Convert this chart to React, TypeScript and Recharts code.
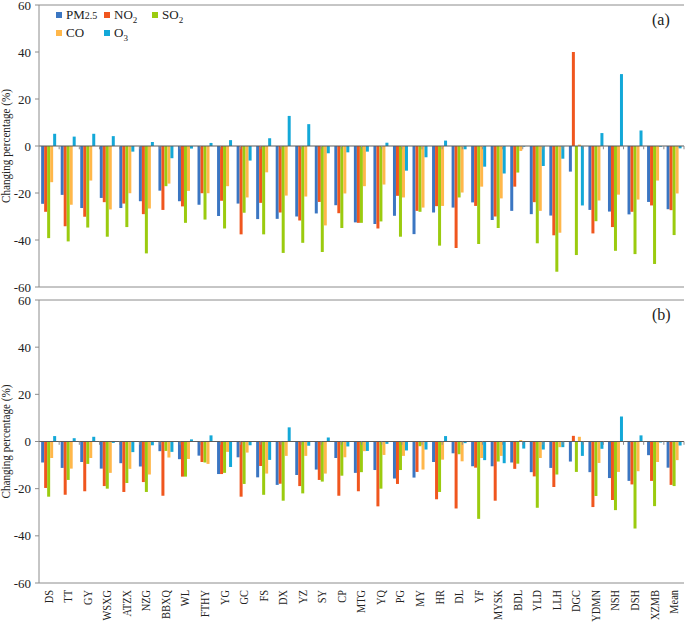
import React from "react";
import { BarChart, Bar, XAxis, YAxis, ReferenceLine, Legend } from "recharts";

const categories = [
  "DS", "TT", "GY", "WSXG", "ATZX", "NZG", "BBXQ", "WL", "FTHY", "YG", "GC",
  "FS", "DX", "YZ", "SY", "CP", "MTG", "YQ", "PG", "MY", "HR", "DL",
  "YF", "MYSK", "BDL", "YLD", "LLH", "DGC", "YDMN", "NSH", "DSH", "XZMB", "Mean",
];

// panel (a)
const pm25A = [-24.6, -20.8, -26.4, -22.1, -26.4, -23.5, -19.0, -23.5, -25.0, -29.8, -24.5, -31.1, -31.0, -30.0, -28.7, -25.2, -32.5, -33.2, -29.7, -37.5, -28.3, -26.2, -24.0, -31.5, -27.6, -29.0, -29.6, -10.9, -27.2, -27.9, -29.1, -23.8, -26.9];
const no2A = [-28.0, -34.2, -30.1, -23.9, -24.5, -29.0, -27.2, -25.7, -20.1, -23.3, -37.6, -24.2, -28.3, -31.7, -23.8, -28.6, -32.7, -35.1, -21.2, -27.6, -25.6, -43.4, -25.5, -30.0, -17.3, -23.9, -38.0, 40.0, -37.2, -34.5, -28.0, -25.3, -27.3];
const so2A = [-39.2, -40.6, -34.7, -38.6, -34.5, -45.7, -17.1, -32.7, -31.3, -35.1, -28.4, -37.6, -45.5, -41.2, -45.1, -34.9, -32.7, -32.1, -38.6, -28.0, -42.4, -21.9, -41.7, -34.9, -11.3, -41.4, -53.5, -46.4, -32.0, -44.6, -46.0, -50.2, -37.9];
const coA = [-15.4, -25.0, -14.7, -27.0, -20.1, -26.6, -16.0, -19.1, -20.1, -17.1, -21.9, -11.2, -21.1, -21.5, -33.8, -20.2, -17.1, -16.4, -21.9, -26.2, -25.5, -19.8, -17.3, -22.3, -2.1, -27.6, -36.9, 0.6, -23.2, -20.7, -22.8, -14.7, -20.2];
const o3A = [5.2, 4.0, 5.2, 4.2, -2.4, 1.7, -5.2, -1.1, 1.3, 2.5, -6.2, 3.3, 12.8, 9.3, -3.1, -2.7, -2.4, 1.4, -10.5, -4.8, 2.3, -1.4, -8.8, -11.7, -0.3, -8.5, -5.4, -25.3, 5.5, 30.6, 6.6, -0.3, -1.0];

// panel (b)
const pm25B = [-8.9, -11.2, -8.7, -11.5, -9.2, -10.6, -4.1, -7.5, -6.0, -13.8, -6.7, -15.2, -18.4, -14.2, -11.9, -7.0, -13.3, -12.1, -15.7, -15.3, -8.7, -5.0, -10.5, -10.5, -8.9, -13.0, -11.2, -8.5, -13.0, -15.5, -16.7, -5.8, -11.1];
const no2B = [-19.7, -22.6, -21.1, -18.9, -21.4, -17.2, -23.0, -14.9, -8.7, -13.8, -23.4, -10.4, -17.9, -18.9, -16.3, -23.0, -21.1, -27.5, -18.0, -12.9, -24.5, -28.4, -11.1, -25.1, -11.6, -14.8, -19.3, 2.4, -27.8, -24.8, -18.2, -16.7, -18.4];
const so2B = [-23.4, -16.3, -9.5, -20.0, -17.6, -21.4, -4.0, -14.9, -8.9, -13.3, -18.0, -22.6, -25.1, -22.0, -17.0, -14.5, -13.0, -20.0, -12.1, -2.0, -21.4, -5.4, -32.8, -8.5, -9.4, -28.1, -14.0, -12.9, -23.1, -29.1, -36.9, -27.4, -18.9];
const coB = [-7.0, -11.5, -7.0, -13.3, -11.6, -14.0, -6.8, -7.4, -9.5, -4.4, -4.7, -13.6, -6.1, -6.1, -13.6, -6.7, -4.1, -5.7, -6.1, -11.9, -7.7, -8.4, -7.0, -6.1, 0.6, -7.0, -2.4, 2.0, -9.1, -12.9, -12.6, -8.7, -7.9];
const o3B = [2.3, 1.4, 2.0, -0.6, -4.5, -1.6, -4.4, 0.9, 2.6, -10.8, -1.6, -7.8, 6.0, -1.8, 1.7, -2.1, -4.0, -1.0, -3.8, -3.4, 2.3, -0.7, -7.9, -9.2, -3.0, -3.4, -2.4, -6.1, -3.1, 10.6, 2.6, -0.4, -1.7];

const seriesKeys = ["pm25", "no2", "so2", "co", "o3"];
const seriesNames = ["PM2.5", "NO2", "SO2", "CO", "O3"];
const seriesColors = ["#3b76c2", "#f0561e", "#9bcb0f", "#ffb74a", "#13a8d8"];
const yTicks = [-60, -40, -20, 0, 20, 40, 60];

const FONT = "'Liberation Serif', 'Times New Roman', serif";
const BORDER = "#8c8c8c";

function buildRows(values: number[][]) {
  return categories.map((name, i) => {
    const row: Record<string, number | string> = { name };
    seriesKeys.forEach((k, j) => {
      row[k] = values[j][i];
    });
    return row;
  });
}

const dataA = buildRows([pm25A, no2A, so2A, coA, o3A]);
const dataB = buildRows([pm25B, no2B, so2B, coB, o3B]);

const legendText: Record<string, React.ReactNode> = {
  pm25: <>PM<span style={{ fontSize: 10 }}>2.5</span></>,
  no2: <>NO<sub style={{ fontSize: 9, lineHeight: 0 }}>2</sub></>,
  so2: <>SO<sub style={{ fontSize: 9, lineHeight: 0 }}>2</sub></>,
  co: <>CO</>,
  o3: <>O<sub style={{ fontSize: 9, lineHeight: 0 }}>3</sub></>,
};

function LegendBox(props: any) {
  const items = [...(props.payload || [])].sort(
    (a: any, b: any) => seriesKeys.indexOf(a.dataKey) - seriesKeys.indexOf(b.dataKey)
  );
  return (
    <div style={{ display: "grid", gridTemplateColumns: "48px 48px 48px", fontFamily: FONT, fontSize: 13, color: "#222" }}>
      {items.map((p: any) => (
        <div key={p.dataKey} style={{ display: "flex", alignItems: "center", height: 18 }}>
          <span style={{ width: 6, height: 6, background: p.color, marginRight: 4, display: "inline-block" }} />
          <span>{legendText[p.dataKey]}</span>
        </div>
      ))}
    </div>
  );
}

// the source figure is squeezed vertically, so vertical text is shorter than its glyph size
function RotTick(props: any) {
  const { x, y, payload } = props;
  return (
    <text transform={`translate(${x}, ${y}) rotate(-90) scale(0.8, 1)`} textAnchor="end" dominantBaseline="central"
      style={{ fontFamily: FONT }} fontSize={13} fill="#222">
      {payload.value}
    </text>
  );
}

function YTick(props: any) {
  const { x, y, payload } = props;
  return (
    <text x={x} y={y} textAnchor="end" dominantBaseline="central" style={{ fontFamily: FONT }} fontSize={13} fill="#222">
      {payload.value}
    </text>
  );
}

function YLabel(props: any) {
  const vb = props.viewBox || { x: 0, y: 0, height: 0 };
  const cx = vb.x + 6;
  const cy = vb.y + vb.height / 2;
  return (
    <text transform={`translate(${cx}, ${cy}) rotate(-90) scale(0.86, 1)`} textAnchor="middle" dominantBaseline="central"
      style={{ fontFamily: FONT }} fontSize={13} fill="#222">
      Changing percentage (%)
    </text>
  );
}

function Panel({ data, top, height, withAxis, withLegend, tag }: any) {
  const boundaries = categories.map((_, i) => i).slice(1);
  return (
    <div style={{ position: "absolute", left: 0, top, width: 685, height }}>
      <BarChart width={685} height={height} data={data}
        margin={{ top: 5, right: 1, left: 0, bottom: withAxis ? 0 : 8 }}
        barCategoryGap="11%" barGap={0}>
        <XAxis dataKey="name" hide={!withAxis} height={41} axisLine={false} tickLine={false}
          tickSize={0} tickMargin={7} interval={0} tick={<RotTick />} />
        <XAxis xAxisId="n" type="number" domain={[0, categories.length]} hide allowDataOverflow />
        <YAxis domain={[-60, 60]} ticks={yTicks} width={39} interval={0}
          axisLine={{ stroke: BORDER }} tickLine={{ stroke: BORDER }} tickSize={4} tickMargin={4}
          tick={<YTick />} label={<YLabel />} />
        {seriesKeys.map((k, j) => (
          <Bar key={k} dataKey={k} name={seriesNames[j]} fill={seriesColors[j]} isAnimationActive={false} />
        ))}
        <ReferenceLine y={60} stroke={BORDER} />
        <ReferenceLine y={-60} stroke={BORDER} />
        <ReferenceLine xAxisId="n" x={categories.length} stroke={BORDER} />
        <ReferenceLine y={0} stroke="#5a5a5a" />
        {boundaries.map((b) => (
          <ReferenceLine key={b} xAxisId="n" segment={[{ x: b, y: 0 }, { x: b, y: -1.4 }]} stroke={BORDER} />
        ))}
        {withLegend && (
          <Legend layout="vertical" align="center" verticalAlign="middle" content={<LegendBox />}
            wrapperStyle={{ position: "absolute", top: 6, left: 56, width: 160 }} />
        )}
      </BarChart>
      <div style={{ position: "absolute", left: 652, top: 11, fontFamily: FONT, fontSize: 16, color: "#222" }}>{tag}</div>
    </div>
  );
}

export default function App() {
  return (
    <div style={{ position: "absolute", left: 0, top: 0, width: 685, height: 624, background: "#fff" }}>
      <Panel data={dataA} top={0} height={295} withAxis={false} withLegend tag="(a)" />
      <Panel data={dataB} top={295} height={329} withAxis withLegend={false} tag="(b)" />
    </div>
  );
}
